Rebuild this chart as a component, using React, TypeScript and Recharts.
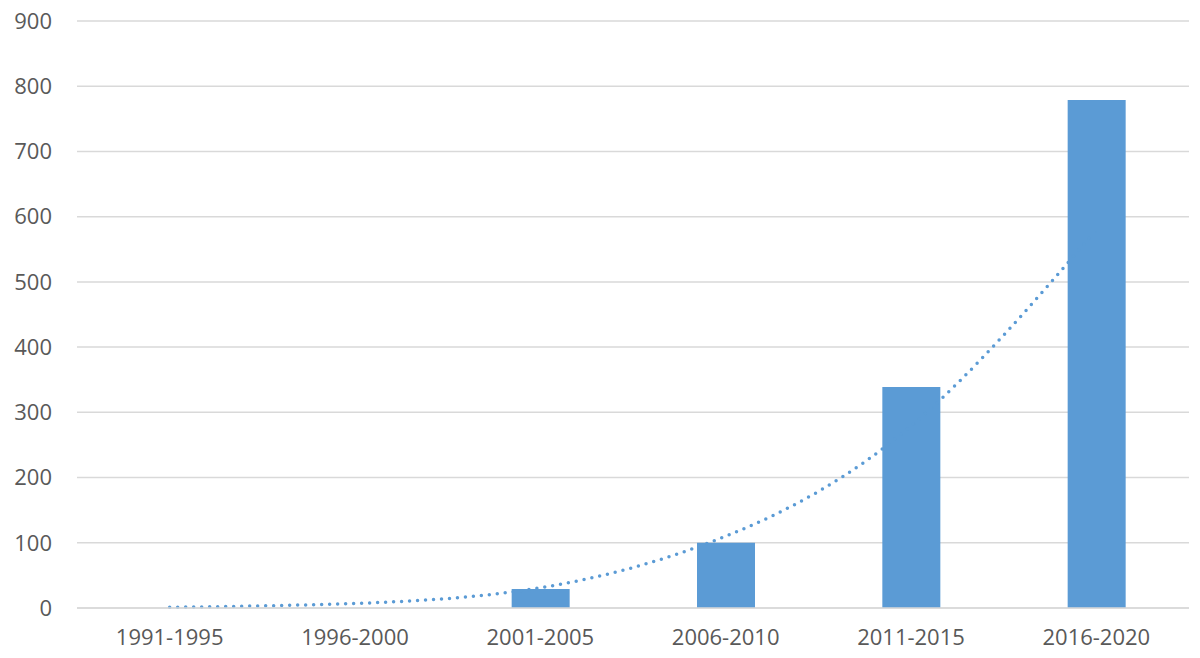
import { ComposedChart, Bar, Line, XAxis, YAxis, CartesianGrid } from "recharts"

const periods = ["1991-1995", "1996-2000", "2001-2005", "2006-2010", "2011-2015", "2016-2020"]
const counts = [0, 0, 29, 100, 339, 779]
const trend = [1, 7, 31, 110, 279, 580]
const yTicks = [0, 100, 200, 300, 400, 500, 600, 700, 800, 900]

const data = periods.map((p, i) => ({ period: p, count: counts[i], trend: trend[i] }))

const tickStyle = { fill: "#595959", fontSize: 22, fontFamily: "Open Sans" }

export default function App() {
  return (
    <div style={{ position: "absolute", left: 0, top: 0 }}>
      <ComposedChart
        width={1200}
        height={658}
        data={data}
        margin={{ top: 21, right: 11, bottom: 0, left: 0 }}
      >
        <CartesianGrid vertical={false} stroke="#d9d9d9" strokeWidth={1.5} />
        <XAxis
          dataKey="period"
          height={50}
          tickLine={false}
          tickSize={0}
          tickMargin={21}
          axisLine={{ stroke: "#d9d9d9", strokeWidth: 1.5 }}
          tick={tickStyle}
        />
        <YAxis
          width={77}
          domain={[0, 900]}
          ticks={yTicks}
          axisLine={false}
          tickLine={false}
          tickSize={0}
          tickMargin={25}
          tick={tickStyle}
        />
        <Line
          type="natural"
          dataKey="trend"
          stroke="#5b9bd5"
          strokeWidth={3.5}
          strokeDasharray="0 8"
          strokeLinecap="round"
          dot={false}
          activeDot={false}
          isAnimationActive={false}
        />
        <Bar dataKey="count" fill="#5b9bd5" barSize={58} isAnimationActive={false} />
      </ComposedChart>
    </div>
  )
}
